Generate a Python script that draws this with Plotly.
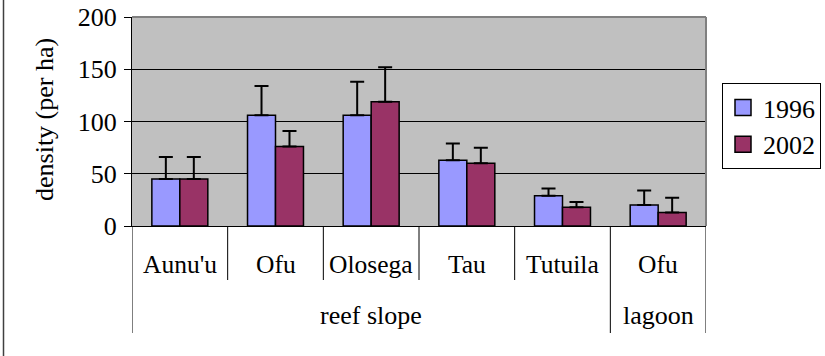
import plotly.graph_objects as go

sites = ["Aunu'u", "Ofu", "Olosega", "Tau", "Tutuila", "Ofu"]
habitats = ["reef slope", "reef slope", "reef slope", "reef slope", "reef slope", "lagoon"]
years = ["1996", "2002"]
density_1996 = [45, 106, 106, 63, 29, 20]
density_2002 = [45, 76, 119, 60, 18, 13]
err_1996 = [21, 28, 32, 16, 7, 14]
err_2002 = [21, 15, 33, 15, 5, 14]
colors = ["#9999FF", "#993366"]
y_ticks = [0, 50, 100, 150, 200]

FONT = "Liberation Serif, Times New Roman, serif"
FS = 26
FS_LBL = 25.5
L, R, T, B = 132, 119, 17, 130
W, H = 825, 356
ph = H - T - B
pw = W - L - R

def py(pix):
    return (H - B - pix) / ph

def px(pix):
    return (pix - L) / pw

idx = list(range(len(sites)))
fig = go.Figure()
for yr, vals, errs, col in zip(years, [density_1996, density_2002], [err_1996, err_2002], colors):
    fig.add_trace(go.Bar(
        x=idx, y=vals, name=yr, showlegend=False,
        marker=dict(color=col, line=dict(color="black", width=1.5)),
        error_y=dict(type="data", array=errs, symmetric=False, arrayminus=[0] * len(errs),
                     color="black", thickness=2, width=7),
    ))
    fig.add_trace(go.Scatter(
        x=[None], y=[None], mode="markers", name=yr,
        marker=dict(symbol="square", size=16, color=col, line=dict(color="black", width=1.5)),
    ))

shapes = []
outer_bounds = [-0.5]
for i in range(1, len(habitats)):
    if habitats[i] != habitats[i - 1]:
        outer_bounds.append(i - 0.5)
outer_bounds.append(len(habitats) - 0.5)
for i in range(len(sites) + 1):
    b = i - 0.5
    y1 = py(333) if b in outer_bounds else py(280)
    shapes.append(dict(type="line", xref="x", yref="paper", x0=b, x1=b, y0=0, y1=y1,
                       line=dict(color="black", width=1)))
shapes.append(dict(type="line", xref="paper", yref="paper", x0=0, x1=1, y0=1, y1=1,
                   line=dict(color="#808080", width=2), layer="above"))
shapes.append(dict(type="line", xref="paper", yref="paper", x0=1, x1=1, y0=0, y1=1,
                   line=dict(color="#808080", width=2), layer="above"))
shapes.append(dict(type="line", xref="paper", yref="paper", x0=px(3.5), x1=px(3.5), y0=py(0), y1=py(356),
                   line=dict(color="#404040", width=1.5)))

annotations = []
for i, s in enumerate(sites):
    annotations.append(dict(x=i, y=py(264), xref="x", yref="paper", text=s, showarrow=False,
                            font=dict(family=FONT, size=FS_LBL, color="black"), yanchor="middle"))
groups = []
start = 0
for i in range(1, len(habitats) + 1):
    if i == len(habitats) or habitats[i] != habitats[start]:
        groups.append((habitats[start], start, i - 1))
        start = i
for name, a, b in groups:
    annotations.append(dict(x=(a + b) / 2, y=py(315), xref="x", yref="paper", text=name, showarrow=False,
                            font=dict(family=FONT, size=FS, color="black"), yanchor="middle"))
annotations.append(dict(x=px(44), y=py(120), xref="paper", yref="paper", text="density (per ha)",
                        textangle=-90, showarrow=False, font=dict(family=FONT, size=FS, color="black"),
                        xanchor="center", yanchor="middle"))

fig.update_layout(
    width=W, height=H,
    margin=dict(l=L, r=R, t=T, b=B, pad=0, autoexpand=False),
    paper_bgcolor="white", plot_bgcolor="#C0C0C0",
    barmode="group", bargap=0.415, bargroupgap=0,
    font=dict(family=FONT, size=FS, color="black"),
    shapes=shapes, annotations=annotations,
    legend=dict(x=px(722), y=py(83), xanchor="left", yanchor="top",
                bordercolor="black", borderwidth=1, bgcolor="white",
                font=dict(family=FONT, size=FS, color="black"), itemwidth=30),
    xaxis=dict(range=[-0.5, len(sites) - 0.5], showticklabels=False, showgrid=False, zeroline=False,
               showline=True, linecolor="black", linewidth=1, ticks=""),
    yaxis=dict(range=[0, 200], tickvals=y_ticks, showgrid=True, gridcolor="black", gridwidth=1,
               zeroline=False, showline=True, linecolor="black", linewidth=1,
               ticks="outside", ticklen=7, tickcolor="black", tickwidth=1,
               tickfont=dict(family=FONT, size=FS, color="black"), ticklabelstandoff=2),
)
fig.write_html("out.html", config={"displayModeBar": False},
               post_script="document.body.style.margin='0';document.body.style.overflow='hidden';")
